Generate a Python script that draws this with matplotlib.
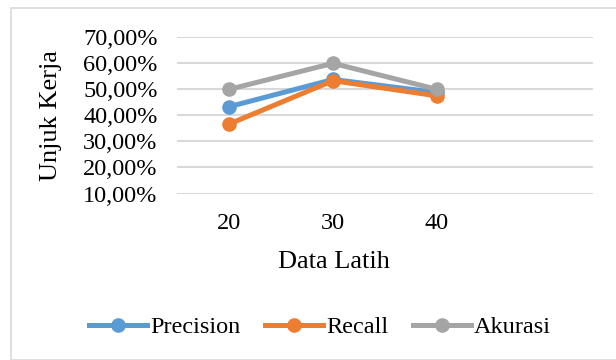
import matplotlib.pyplot as plt
from matplotlib.patches import Rectangle
from matplotlib.ticker import FuncFormatter

# Data (unjuk kerja per jumlah data latih)
kategori = ["20", "30", "40"]
precision = [0.4333, 0.5380, 0.4880]
recall = [0.3667, 0.5333, 0.4750]
akurasi = [0.5000, 0.6000, 0.5000]

plt.rcParams['font.family'] = ['Liberation Serif', 'DejaVu Serif']

fig = plt.figure(figsize=(6.16, 3.6), dpi=100)
ax = fig.add_axes([177 / 616, 1 - 193.5 / 360, 416 / 616, (193.5 - 37.3) / 360])

# bingkai chart
fig.patches.append(Rectangle((11 / 616, 0), 1, 1 - 8 / 360, transform=fig.transFigure,
                             fill=False, edgecolor='#D9D9D9', linewidth=1.2, zorder=0))

x = list(range(len(kategori)))
ax.plot(x, precision, color='#5B9BD5', lw=3.6, marker='o', ms=9.5, label='Precision', zorder=3)
ax.plot(x, recall, color='#ED7D31', lw=3.6, marker='o', ms=9.5, label='Recall', zorder=4)
ax.plot(x, akurasi, color='#A5A5A5', lw=3.6, marker='o', ms=9.5, label='Akurasi', zorder=5)

ax.set_xlim(-0.5, 3.5)
ax.set_ylim(0.1, 0.7)
ax.set_xticks(x)
ax.set_xticklabels(kategori)
ax.set_yticks([0.1, 0.2, 0.3, 0.4, 0.5, 0.6, 0.7])
ax.yaxis.set_major_formatter(FuncFormatter(lambda v, p: f"{v * 100:.2f}%".replace('.', ',')))
ax.grid(axis='y', color='#D9D9D9', lw=1.5)
ax.set_axisbelow(True)
for s in ax.spines.values():
    s.set_visible(False)
ax.tick_params(length=0, labelsize=17.5)
ax.tick_params(axis='y', pad=14)
ax.tick_params(axis='x', pad=14)

ax.set_xlabel("Data Latih", fontsize=19)
ax.xaxis.set_label_coords((334 - 177) / 416, -0.365)
ax.set_ylabel("Unjuk Kerja", fontsize=19)
ax.yaxis.set_label_coords(-(177 - 62) / 416, 0.5)

fig.legend(loc='center', bbox_to_anchor=(320 / 616, 1 - 327 / 360), ncol=3, frameon=False,
           fontsize=17.5, handlelength=2.4, handletextpad=0.12, columnspacing=1.0)

fig.savefig("out.png", dpi=100)
